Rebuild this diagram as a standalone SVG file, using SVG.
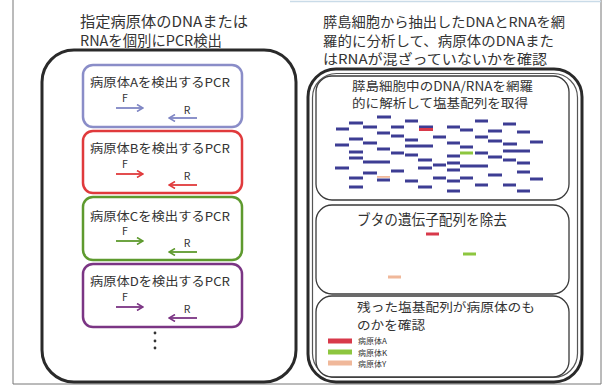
<svg xmlns="http://www.w3.org/2000/svg" width="607" height="386" viewBox="0 0 607 386">
<style>
text{font-family:"Noto Sans CJK JP","Noto Sans",sans-serif;fill:#333}
.t{font-size:14.5px}
.r{font-size:13.5px}
.s{font-size:12.5px}
.lb{font-size:12px}
.fr{font-size:10.5px;text-anchor:middle}
.lg{font-size:8px}
.big{fill:none;stroke:#2a2a2a;stroke-width:3}
.inner{fill:#fff;stroke:#3a3a3a;stroke-width:1.3}
.pcr{fill:#fff;stroke-width:2.5}
.seq rect{fill:#3d3d94}
</style>
<defs>
<marker id="mA" viewBox="0 0 8 8" refX="7" refY="4" markerWidth="8" markerHeight="8" markerUnits="userSpaceOnUse" orient="auto"><path d="M1,0.5 L7,4 L1,7.5" fill="none" stroke="#7f86c4" stroke-width="1.6"/></marker>
<marker id="mB" viewBox="0 0 8 8" refX="7" refY="4" markerWidth="8" markerHeight="8" markerUnits="userSpaceOnUse" orient="auto"><path d="M1,0.5 L7,4 L1,7.5" fill="none" stroke="#e03a3c" stroke-width="1.6"/></marker>
<marker id="mC" viewBox="0 0 8 8" refX="7" refY="4" markerWidth="8" markerHeight="8" markerUnits="userSpaceOnUse" orient="auto"><path d="M1,0.5 L7,4 L1,7.5" fill="none" stroke="#5e9a2e" stroke-width="1.6"/></marker>
<marker id="mD" viewBox="0 0 8 8" refX="7" refY="4" markerWidth="8" markerHeight="8" markerUnits="userSpaceOnUse" orient="auto"><path d="M1,0.5 L7,4 L1,7.5" fill="none" stroke="#7b3584" stroke-width="1.6"/></marker>
</defs>
<rect width="607" height="386" fill="#fff"/>
<!-- outer frame -->
<path d="M13,0 V384 H601 V0" fill="none" stroke="#777" stroke-width="1"/>
<line x1="290" y1="1.5" x2="601" y2="1.5" stroke="#c9dbe8" stroke-width="1.5"/>

<!-- left side -->
<g id="left-title">
<text class="t" x="80" y="27" textLength="168" lengthAdjust="spacingAndGlyphs">指定病原体のDNAまたは</text>
<text class="t" x="80" y="46" textLength="142" lengthAdjust="spacingAndGlyphs">RNAを個別にPCR検出</text>
</g>
<g id="left-box"><rect class="big" x="42" y="50" width="254" height="332" rx="32"/></g>

<g id="pcrA">
<rect class="pcr" x="83" y="65" width="159" height="62" rx="10" stroke="#8a8dc8"/>
<text class="lb" x="90" y="87" textLength="140" lengthAdjust="spacingAndGlyphs">病原体Aを検出するPCR</text>
<text class="fr" x="125" y="102">F</text>
<text class="fr" x="187" y="114">R</text>
</g>
<g id="pcrB">
<rect class="pcr" x="83" y="131" width="159" height="62" rx="10" stroke="#e03a3c"/>
<text class="lb" x="90" y="153" textLength="140" lengthAdjust="spacingAndGlyphs">病原体Bを検出するPCR</text>
<text class="fr" x="125" y="168">F</text>
<text class="fr" x="187" y="180">R</text>
</g>
<g id="pcrC">
<rect class="pcr" x="83" y="197" width="159" height="63" rx="10" stroke="#5e9a2e"/>
<text class="lb" x="90" y="221" textLength="140" lengthAdjust="spacingAndGlyphs">病原体Cを検出するPCR</text>
<text class="fr" x="125" y="235">F</text>
<text class="fr" x="187" y="247">R</text>
</g>
<g id="pcrD">
<rect class="pcr" x="83" y="264" width="159" height="63" rx="10" stroke="#7b3584"/>
<text class="lb" x="90" y="286" textLength="140" lengthAdjust="spacingAndGlyphs">病原体Dを検出するPCR</text>
<text class="fr" x="125" y="301">F</text>
<text class="fr" x="187" y="313">R</text>
</g>
<g id="dots" fill="#333">
<circle cx="155" cy="333" r="1.4"/><circle cx="155" cy="341" r="1.4"/><circle cx="155" cy="348" r="1.4"/>
</g>

<g id="connectors" stroke-width="1.8" fill="none">
<line x1="116" y1="108" x2="143" y2="108" stroke="#7f86c4" marker-end="url(#mA)"/>
<line x1="197" y1="118" x2="169" y2="118" stroke="#7f86c4" marker-end="url(#mA)"/>
<line x1="116" y1="174" x2="143" y2="174" stroke="#e03a3c" marker-end="url(#mB)"/>
<line x1="197" y1="185" x2="169" y2="185" stroke="#e03a3c" marker-end="url(#mB)"/>
<line x1="116" y1="241" x2="143" y2="241" stroke="#5e9a2e" marker-end="url(#mC)"/>
<line x1="197" y1="252" x2="169" y2="252" stroke="#5e9a2e" marker-end="url(#mC)"/>
<line x1="116" y1="307" x2="143" y2="307" stroke="#7b3584" marker-end="url(#mD)"/>
<line x1="197" y1="318" x2="169" y2="318" stroke="#7b3584" marker-end="url(#mD)"/>
</g>

<!-- right side -->
<g id="right-title">
<text class="r" x="323" y="27" textLength="242" lengthAdjust="spacingAndGlyphs">膵島細胞から抽出したDNAとRNAを網</text>
<text class="r" x="323" y="45.5" textLength="231" lengthAdjust="spacingAndGlyphs">羅的に分析して、病原体のDNAまた</text>
<text class="r" x="323" y="64" textLength="224" lengthAdjust="spacingAndGlyphs">はRNAが混ざっていないかを確認</text>
</g>
<g id="right-box">
<rect class="big" x="308" y="69" width="274" height="313" rx="28"/>
<rect x="312.5" y="73.5" width="265" height="304" rx="24" fill="none" stroke="#555" stroke-width="1.2"/>
</g>

<g id="step1">
<rect class="inner" x="316" y="76" width="253" height="124" rx="16"/>
<text class="s" x="352" y="90.5" textLength="181" lengthAdjust="spacingAndGlyphs">膵島細胞中のDNA/RNAを網羅</text>
<text class="s" x="352" y="108" textLength="176" lengthAdjust="spacingAndGlyphs">的に解析して塩基配列を取得</text>
<g class="seq">
<rect x="377" y="115.5" width="14" height="3"/><rect x="405" y="119.5" width="13" height="3"/><rect x="475" y="119.5" width="13" height="3"/><rect x="349" y="121.5" width="14" height="3"/><rect x="503" y="122.5" width="13" height="3"/><rect x="363" y="125.5" width="14" height="3"/><rect x="391" y="125.5" width="13" height="3"/><rect x="447" y="125.5" width="13" height="3"/><rect x="336" y="127.5" width="13" height="3"/><rect x="460" y="128.5" width="13" height="3"/><rect x="488" y="129.5" width="14" height="3"/><rect x="517" y="130.5" width="13" height="3"/><rect x="377" y="131.5" width="13" height="3"/><rect x="391" y="134.5" width="13" height="3"/><rect x="433" y="135.5" width="13" height="3"/><rect x="475" y="135.5" width="13" height="3"/><rect x="349" y="137.5" width="14" height="3"/><rect x="405" y="138.5" width="13" height="3"/><rect x="488" y="139.5" width="14" height="3"/><rect x="530" y="140.5" width="13" height="3"/><rect x="363" y="141.5" width="14" height="3"/><rect x="447" y="141.5" width="13" height="3"/><rect x="503" y="142.5" width="14" height="3"/><rect x="335" y="143.5" width="14" height="3"/><rect x="405" y="144.5" width="28" height="3"/><rect x="460" y="145.5" width="13" height="3"/><rect x="377" y="147.5" width="13" height="3"/><rect x="503" y="149.5" width="27" height="3"/><rect x="349" y="150.5" width="14" height="3"/><rect x="391" y="151.5" width="13" height="3"/><rect x="475" y="151.5" width="13" height="3"/><rect x="405" y="153.5" width="13" height="3"/><rect x="447" y="154.5" width="13" height="3"/><rect x="488" y="155.5" width="14" height="3"/><rect x="349" y="156.5" width="14" height="3"/><rect x="418" y="158.5" width="14" height="3"/><rect x="503" y="158.5" width="13" height="3"/><rect x="363" y="160.5" width="27" height="3"/><rect x="447" y="161.5" width="13" height="3"/><rect x="517" y="161.5" width="13" height="3"/><rect x="433" y="163.5" width="13" height="3"/><rect x="460" y="164.5" width="28" height="3"/><rect x="335" y="166.5" width="14" height="3"/><rect x="418" y="166.5" width="14" height="3"/><rect x="447" y="168.5" width="13" height="3"/><rect x="391" y="169.5" width="13" height="3"/><rect x="517" y="170.5" width="13" height="3"/><rect x="363" y="171.5" width="14" height="3"/><rect x="488" y="173.5" width="14" height="3"/><rect x="349" y="176.5" width="14" height="3"/><rect x="433" y="176.5" width="13" height="3"/><rect x="460" y="176.5" width="13" height="3"/><rect x="530" y="177.5" width="13" height="3"/><rect x="377" y="178.5" width="13" height="3"/><rect x="405" y="179.5" width="13" height="3"/><rect x="447" y="179.5" width="13" height="3"/><rect x="475" y="183.5" width="13" height="3"/><rect x="503" y="183.5" width="13" height="3"/><rect x="349" y="185.5" width="14" height="3"/><rect x="418" y="185.5" width="14" height="3"/><rect x="447" y="189.5" width="13" height="3"/><rect x="517" y="189.5" width="13" height="3"/>
<rect x="419" y="125.5" width="14" height="2.5"/>
</g>
<rect x="419" y="128" width="14" height="3" fill="#d8394a"/>
<rect x="460" y="151.5" width="13" height="3" fill="#8dc63f"/>
<rect x="377" y="176" width="13" height="1.8" fill="#f0b89a"/>
</g>

<g id="step2">
<rect class="inner" x="316" y="205" width="253" height="89" rx="16"/>
<text class="t" x="357" y="225" textLength="150" lengthAdjust="spacingAndGlyphs">ブタの遺伝子配列を除去</text>
<rect x="426" y="232.5" width="13" height="3" fill="#d8394a"/>
<rect x="463" y="252.5" width="13" height="3" fill="#8dc63f"/>
<rect x="388" y="275.5" width="13" height="3" fill="#f0b89a"/>
</g>

<g id="step3">
<rect class="inner" x="316" y="296" width="253" height="81" rx="16"/>
<text class="s" x="357" y="312" textLength="178" lengthAdjust="spacingAndGlyphs">残った塩基配列が病原体のも</text>
<text class="s" x="357" y="330" textLength="68" lengthAdjust="spacingAndGlyphs">のかを確認</text>
<rect x="328" y="338.5" width="24" height="5" fill="#d8394a"/>
<rect x="328" y="349.5" width="24" height="5" fill="#8dc63f"/>
<rect x="328" y="360.5" width="24" height="5" fill="#f0b89a"/>
<text class="lg" x="358" y="344">病原体A</text>
<text class="lg" x="358" y="355.5">病原体K</text>
<text class="lg" x="358" y="367">病原体Y</text>
</g>
</svg>
